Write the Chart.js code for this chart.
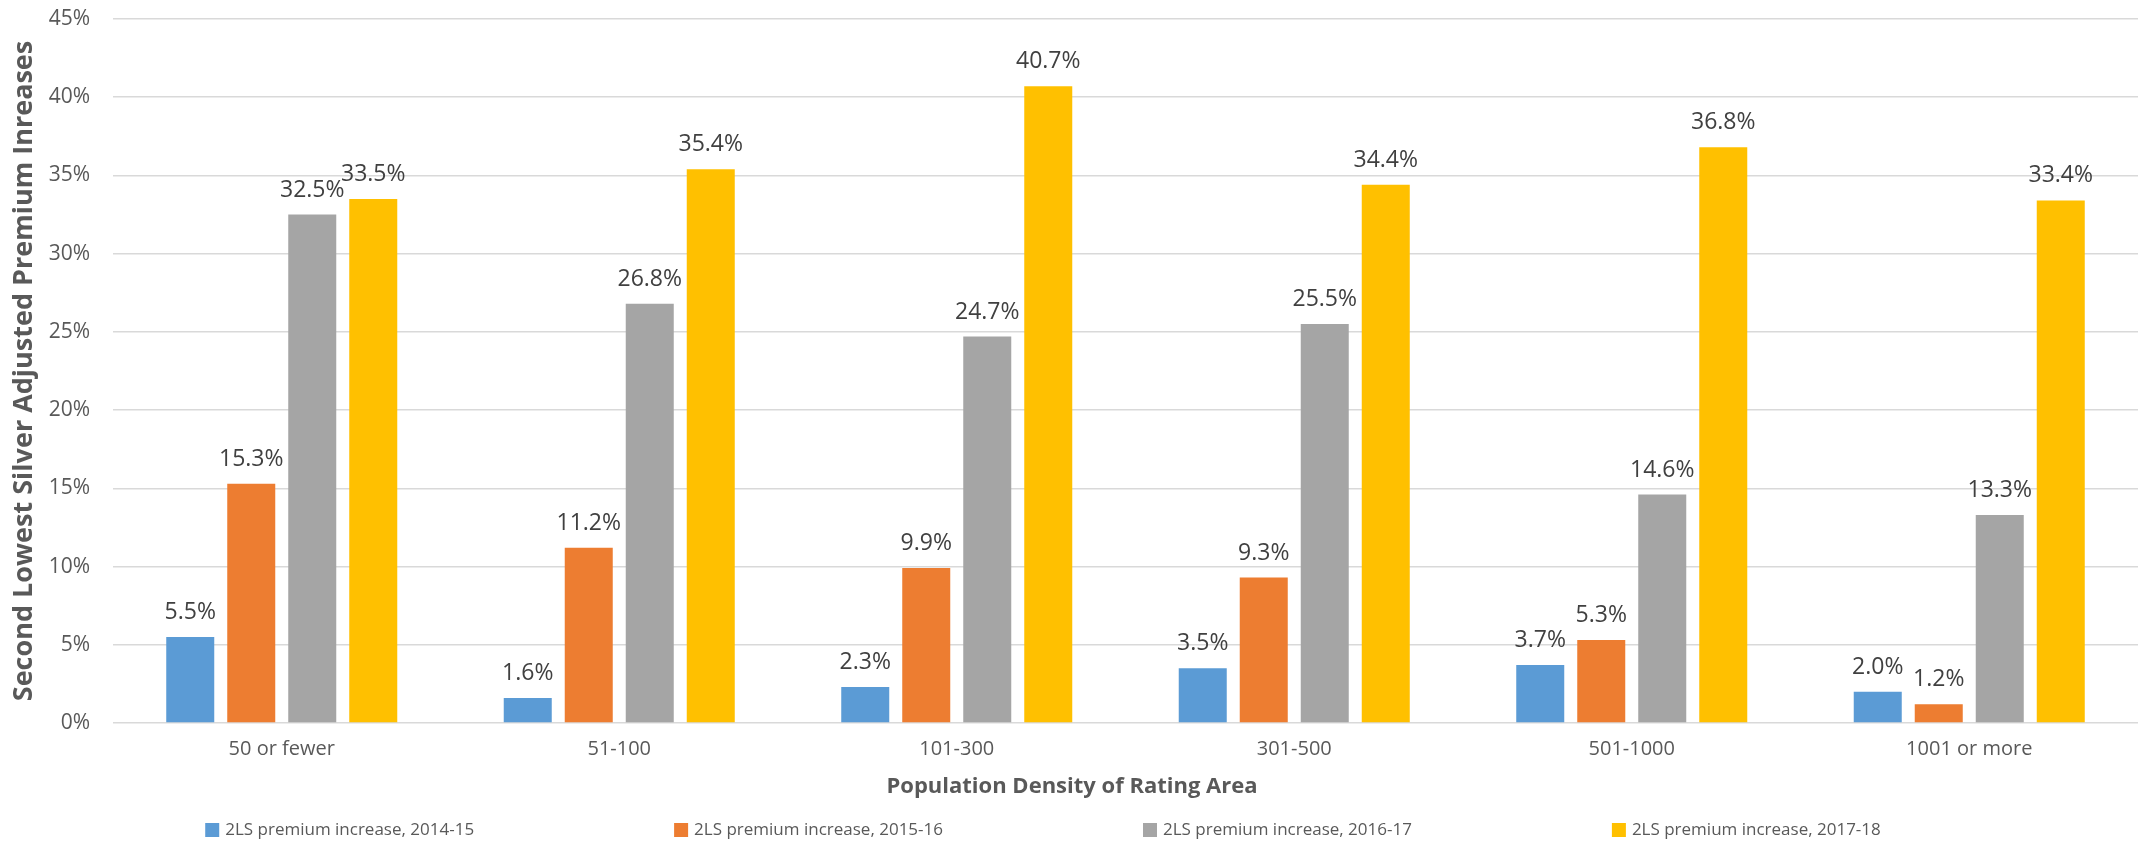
<!DOCTYPE html>
<html>
<head>
<meta charset="utf-8">
<script src="https://cdn.jsdelivr.net/npm/chart.js@4"></script>
<style>
  html, body { margin: 0; padding: 0; background: #fff; }
  #wrap { width: 2144px; height: 847px; }
</style>
</head>
<body>
<div id="wrap"><canvas id="chart" width="2144" height="847"></canvas></div>
<script>
const categories = ["50 or fewer", "51-100", "101-300", "301-500", "501-1000", "1001 or more"];
const seriesNames = [
    "2LS premium increase, 2014-15",
    "2LS premium increase, 2015-16",
    "2LS premium increase, 2016-17",
    "2LS premium increase, 2017-18",
];
const increase1415 = [5.5, 1.6, 2.3, 3.5, 3.7, 2.0];
const increase1516 = [15.3, 11.2, 9.9, 9.3, 5.3, 1.2];
const increase1617 = [32.5, 26.8, 24.7, 25.5, 14.6, 13.3];
const increase1718 = [33.5, 35.4, 40.7, 34.4, 36.8, 33.4];
const yTicks = [0, 5, 10, 15, 20, 25, 30, 35, 40, 45];

const colors = ["#5B9BD5", "#ED7D31", "#A5A5A5", "#FFC000"];
const FONT = "'Open Sans', 'Noto Sans', sans-serif";
const xTitle = "Population Density of Rating Area";

// value labels above each bar
const barLabels = {
    id: "barLabels",
    afterDatasetsDraw(chart) {
        const ctx = chart.ctx;
        ctx.save();
        ctx.font = "23px " + FONT;
        ctx.fillStyle = "#404040";
        ctx.textAlign = "center";
        ctx.textBaseline = "alphabetic";
        chart.data.datasets.forEach((ds, i) => {
            chart.getDatasetMeta(i).data.forEach((bar, j) => {
                ctx.fillText(ds.data[j].toFixed(1) + "%", bar.x, bar.y - 18);
            });
        });
        ctx.restore();
    },
};

// x title centred on the whole canvas + spread-out legend, like Excel does
const excelBottom = {
    id: "excelBottom",
    afterDraw(chart) {
        const ctx = chart.ctx;
        ctx.save();
        ctx.font = "bold 22px " + FONT;
        ctx.fillStyle = "#595959";
        ctx.textAlign = "center";
        ctx.textBaseline = "middle";
        ctx.fillText(xTitle, chart.width / 2, 787);

        const box = 14, gap = 6, spacing = 200;
        ctx.font = "17px " + FONT;
        ctx.textAlign = "left";
        const items = chart.data.datasets.map((ds) => ({
            text: ds.label,
            color: ds.backgroundColor,
            w: box + gap + ctx.measureText(ds.label).width,
        }));
        const total = items.reduce((s, it) => s + it.w, 0) + spacing * (items.length - 1);
        let x = chart.width / 2 - 29 - total / 2;
        const y = 830;
        items.forEach((it) => {
            ctx.fillStyle = it.color;
            ctx.fillRect(x, y - box / 2, box, box);
            ctx.fillStyle = "#595959";
            ctx.fillText(it.text, x + box + gap, y);
            x += it.w + spacing;
        });
        ctx.restore();
    },
};

const seriesValues = [increase1415, increase1516, increase1617, increase1718];

new Chart(document.getElementById("chart"), {
    type: "bar",
    data: {
        labels: categories,
        datasets: seriesValues.map((vals, i) => ({
            label: seriesNames[i],
            data: vals,
            backgroundColor: colors[i],
            borderWidth: 0,
            categoryPercentage: 0.723,
            barPercentage: 0.787,
        })),
    },
    options: {
        responsive: false,
        animation: false,
        layout: { padding: { left: 0, right: 6, top: 19, bottom: 48 } },
        plugins: {
            legend: { display: false },
            tooltip: { enabled: false },
        },
        scales: {
            x: {
                afterFit(scale) {
                    scale.height = 76;
                },
                grid: { display: false, drawTicks: false },
                border: { display: false },
                ticks: { color: "#595959", font: { family: FONT, size: 20 }, padding: 14 },
            },
            y: {
                min: 0,
                max: 45,
                afterBuildTicks(scale) {
                    scale.ticks = yTicks.map((v) => ({ value: v }));
                },
                afterFit(scale) {
                    scale.width = 113;
                    scale.paddingTop = 0;
                    scale.paddingBottom = 0;
                },
                grid: { color: "#D9D9D9", lineWidth: 1.5, drawTicks: false },
                border: { display: false },
                ticks: {
                    color: "#595959",
                    font: { family: FONT, size: 21 },
                    padding: 23,
                    callback: (v) => v + "%",
                },
                title: {
                    display: true,
                    text: "Second Lowest Silver Adjusted Premium Inreases",
                    color: "#595959",
                    font: { family: FONT, size: 27, weight: "bold" },
                    padding: { top: 8, bottom: 0 },
                },
            },
        },
    },
    plugins: [barLabels, excelBottom],
});
</script>
</body>
</html>
